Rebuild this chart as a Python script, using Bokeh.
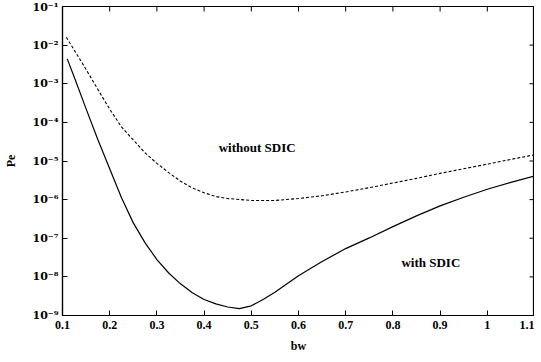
from bokeh.plotting import figure
from bokeh.models import FixedTicker, CustomJSTickFormatter, Label
from bokeh.embed import file_html
from bokeh.resources import INLINE

# --- data ---
bw_without = [0.108, 0.125, 0.15, 0.175, 0.2, 0.225, 0.25, 0.275, 0.3, 0.325, 0.35,
              0.375, 0.4, 0.425, 0.45, 0.5, 0.55, 0.6, 0.65, 0.7, 0.75, 0.8, 0.85,
              0.9, 0.95, 1.0, 1.05, 1.1]
pe_without = [1.6e-2, 7.4e-3, 2.34e-3, 7.1e-4, 2.2e-4, 7.6e-5, 3.5e-5, 1.62e-5,
              8.7e-6, 5.0e-6, 3.0e-6, 2.0e-6, 1.51e-6, 1.2e-6, 1.07e-6, 9.5e-7,
              9.5e-7, 1.07e-6, 1.26e-6, 1.58e-6, 2.04e-6, 2.69e-6, 3.55e-6, 4.79e-6,
              6.3e-6, 8.3e-6, 1.1e-5, 1.45e-5]

bw_with = [0.11, 0.125, 0.15, 0.175, 0.2, 0.225, 0.25, 0.275, 0.3, 0.325, 0.35, 0.375,
           0.4, 0.425, 0.45, 0.475, 0.5, 0.525, 0.55, 0.6, 0.65, 0.7, 0.75, 0.8, 0.85,
           0.9, 0.95, 1.0, 1.05, 1.1]
pe_with = [4.4e-3, 1.48e-3, 2.24e-4, 3.55e-5, 6.3e-6, 1.12e-6, 2.5e-7, 7.6e-8, 2.8e-8,
           1.26e-8, 6.6e-9, 3.9e-9, 2.6e-9, 2.0e-9, 1.66e-9, 1.5e-9, 1.78e-9, 2.6e-9,
           4.0e-9, 1.07e-8, 2.5e-8, 5.4e-8, 1.02e-7, 2.0e-7, 3.8e-7, 6.9e-7, 1.15e-6,
           1.86e-6, 2.8e-6, 4.1e-6]

x_ticks = [0.1, 0.2, 0.3, 0.4, 0.5, 0.6, 0.7, 0.8, 0.9, 1.0, 1.1]
y_ticks = [1e-9, 1e-8, 1e-7, 1e-6, 1e-5, 1e-4, 1e-3, 1e-2, 1e-1]

label_texts = ["without SDIC", "with SDIC"]
label_x = [0.431, 0.818]
label_y = [2.3e-5, 2.3e-8]

FONT = "Liberation Serif"

p = figure(width=534, height=355, y_axis_type="log",
           x_range=(0.1, 1.1), y_range=(1e-9, 1e-1),
           output_backend="svg", toolbar_location=None,
           min_border_left=0, min_border_right=0, min_border_top=6,
           min_border_bottom=0)

p.grid.visible = False
p.outline_line_color = "black"
p.outline_line_width = 1.2
p.background_fill_color = "white"
p.border_fill_color = "white"

sup_js = """
const sup = {'-':'\u207b','0':'\u2070','1':'\u00b9','2':'\u00b2','3':'\u00b3',
             '4':'\u2074','5':'\u2075','6':'\u2076','7':'\u2077','8':'\u2078','9':'\u2079'};
const e = Math.round(Math.log10(tick));
return '10' + String(e).split('').map(c => sup[c]).join('');
"""

def style(ax):
    ax.major_tick_in = 5
    ax.major_tick_out = 0
    ax.minor_tick_line_color = None
    ax.axis_line_color = "black"
    ax.axis_line_width = 1.2
    ax.major_tick_line_color = "black"
    ax.major_label_text_font = FONT
    ax.major_label_text_font_style = "bold"
    ax.major_label_text_font_size = "12px"
    ax.major_label_text_color = "black"
    ax.axis_label_text_font = FONT
    ax.axis_label_text_font_style = "bold"
    ax.axis_label_text_font_size = "12px"
    ax.axis_label_text_color = "black"

xa = p.xaxis[0]
xa.ticker = FixedTicker(ticks=x_ticks)
xa.major_label_overrides = {1.0: "1"}
xa.axis_label = "bw"
xa.major_label_standoff = 5
xa.axis_label_standoff = 7
style(xa)

ya = p.yaxis[0]
ya.ticker = FixedTicker(ticks=y_ticks)
ya.formatter = CustomJSTickFormatter(code=sup_js)
ya.axis_label = "Pe"
ya.major_label_standoff = 4
ya.axis_label_standoff = 12
style(ya)
ya.major_label_text_font = "DejaVu Serif"
ya.major_label_text_font_size = "11px"

# frame ticks on top and right (inward), drawn from the tick arrays
p.ray(x=x_ticks, y=[y_ticks[-1]] * len(x_ticks), length=5, length_units="screen",
      angle=-1.5708, line_color="black", line_width=1)
p.ray(x=[x_ticks[-1]] * len(y_ticks), y=y_ticks, length=5, length_units="screen",
      angle=3.14159, line_color="black", line_width=1)

p.line(bw_without, pe_without, line_color="black", line_width=1.1, line_dash="3 2")
p.line(bw_with, pe_with, line_color="black", line_width=1.2)

for t, x, y in zip(label_texts, label_x, label_y):
    p.add_layout(Label(x=x, y=y, text=t, text_font=FONT, text_font_style="bold",
                       text_font_size="13px", text_color="black",
                       text_baseline="middle", text_align="left"))

open("out.html", "w").write(file_html(p, INLINE))
